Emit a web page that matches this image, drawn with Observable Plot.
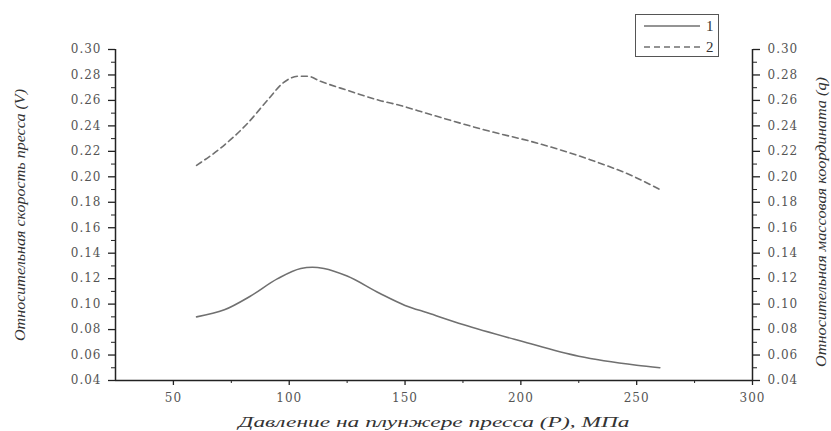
<!DOCTYPE html>
<html>
<head>
<meta charset="utf-8">
<script src="https://cdn.jsdelivr.net/npm/d3@7"></script>
<script src="https://cdn.jsdelivr.net/npm/@observablehq/plot@0.6"></script>
<style>
  body { margin: 0; background: #fff; }
  #wrap { position: relative; width: 831px; height: 431px; }
  #legend { position: absolute; left: 635px; top: 14px; width: 82px; height: 41px;
            border: 1px solid #555; background: #fff; font-family: "Liberation Serif", serif; font-size: 15px; color: #333; }
</style>
</head>
<body>
<div id="wrap"></div>
<script>
// Data
const pressure1 = [60, 72, 83, 95, 105, 110, 115, 125, 139, 150, 160, 175, 200, 225, 250, 260];
const series1 = [0.090, 0.0955, 0.106, 0.120, 0.128, 0.129, 0.128, 0.122, 0.1085, 0.099, 0.093, 0.084, 0.071, 0.059, 0.052, 0.050];
const pressure2 = [60, 70, 82, 91, 97.5, 104, 108, 113.5, 125, 139, 148, 160, 184, 208, 229, 249, 260];
const series2 = [0.209, 0.222, 0.242, 0.261, 0.274, 0.279, 0.279, 0.275, 0.268, 0.260, 0.256, 0.2495, 0.237, 0.226, 0.214, 0.200, 0.190];
const seriesNames = ["1", "2"];
const xTicks = [50, 100, 150, 200, 250, 300];
const xMinor = [75, 125, 175, 225, 275];
const yTicks = [0.04, 0.06, 0.08, 0.10, 0.12, 0.14, 0.16, 0.18, 0.20, 0.22, 0.24, 0.26, 0.28, 0.30];
const yMinor = [0.05, 0.07, 0.09, 0.11, 0.13, 0.15, 0.17, 0.19, 0.21, 0.23, 0.25, 0.27, 0.29];
const xTitle = "Давление на плунжере пресса (P), МПа";
const yLeftTitle = "Относительная скорость пресса (V)";
const yRightTitle = "Относительная массовая координата (q)";

const rows1 = pressure1.map((p, i) => ({p, v: series1[i]}));
const rows2 = pressure2.map((p, i) => ({p, v: series2[i]}));

const tickFont = "DejaVu Serif";
const titleFont = "Liberation Serif";
const ink = "#222";
const lineColor = "#707070";

const chart = Plot.plot({
  width: 831,
  height: 431,
  marginLeft: 115,
  marginRight: 79,
  marginTop: 49,
  marginBottom: 51,
  style: {fontFamily: tickFont, fontSize: "12px", color: "#555", background: "#fff", letterSpacing: "1px"},
  x: {domain: [25, 300]},
  y: {domain: [0.04, 0.30]},
  marks: [
    Plot.ruleX([25], {stroke: ink, strokeWidth: 1.5}),
    Plot.ruleX([300], {stroke: ink, strokeWidth: 1.5}),
    Plot.ruleY([0.04], {stroke: ink, strokeWidth: 1.5}),
    Plot.axisY({anchor: "left", ticks: yTicks, tickFormat: d3.format(".2f"), tickSize: 7, tickPadding: 7, label: null, stroke: ink, strokeWidth: 1.3}),
    Plot.axisY({anchor: "left", ticks: yMinor, tickFormat: () => "", tickSize: 4, label: null, stroke: ink}),
    Plot.axisY({anchor: "right", ticks: yTicks, tickFormat: d3.format(".2f"), tickSize: 7, tickPadding: 8, label: null, stroke: ink, strokeWidth: 1.3}),
    Plot.axisY({anchor: "right", ticks: yMinor, tickFormat: () => "", tickSize: 4, label: null, stroke: ink}),
    Plot.axisX({anchor: "bottom", ticks: xTicks, tickSize: 5, tickPadding: 8, label: null, stroke: ink, strokeWidth: 1.3}),
    Plot.axisX({anchor: "bottom", ticks: xMinor, tickFormat: () => "", tickSize: 3, label: null, stroke: ink}),
    Plot.line(rows1, {x: "p", y: "v", curve: "monotone-x", stroke: lineColor, strokeWidth: 1.6}),
    Plot.line(rows2, {x: "p", y: "v", curve: "monotone-x", stroke: lineColor, strokeWidth: 1.6, strokeDasharray: "6,4"}),
    Plot.text([xTitle], {frameAnchor: "bottom", dy: 42, text: d => d, className: "xtitle", fontFamily: titleFont, fontStyle: "italic", fontSize: 15, fill: "#333", textAnchor: "middle", lineAnchor: "middle"}),
    Plot.text([yLeftTitle], {frameAnchor: "left", dx: -95, rotate: -90, text: d => d, className: "ytitle-left", fontFamily: titleFont, fontStyle: "italic", fontSize: 15, fill: "#333", textAnchor: "middle", lineAnchor: "middle"}),
    Plot.text([yRightTitle], {frameAnchor: "right", dx: 69, dy: 7, rotate: -90, text: d => d, className: "ytitle-right", fontFamily: titleFont, fontStyle: "italic", fontSize: 14, fill: "#333", textAnchor: "middle", lineAnchor: "middle"})
  ]
});

// stretch titles to the reference's wide lettering
const stretch = [["xtitle", 391], ["ytitle-left", 252], ["ytitle-right", 290]];
for (const [cls, len] of stretch) {
  d3.select(chart).selectAll(`g.${cls} text`)
    .attr("textLength", len).attr("lengthAdjust", "spacingAndGlyphs").style("letter-spacing", "0px");
}

const wrap = document.getElementById("wrap");
wrap.appendChild(chart);

// Legend
const legend = document.createElement("div");
legend.id = "legend";
const dashes = ["", "6,4"];
legend.innerHTML = seriesNames.map((n, i) =>
  `<div style="position:absolute;left:8px;top:${4 + i * 21}px;height:14px;display:flex;align-items:center;">
     <svg width="56" height="10"><line x1="0" y1="5" x2="56" y2="5" stroke="${lineColor}" stroke-width="1.6" ${dashes[i] ? `stroke-dasharray="${dashes[i]}"` : ""}/></svg>
     <span style="margin-left:6px;">${n}</span>
   </div>`).join("");
wrap.appendChild(legend);
</script>
</body>
</html>
